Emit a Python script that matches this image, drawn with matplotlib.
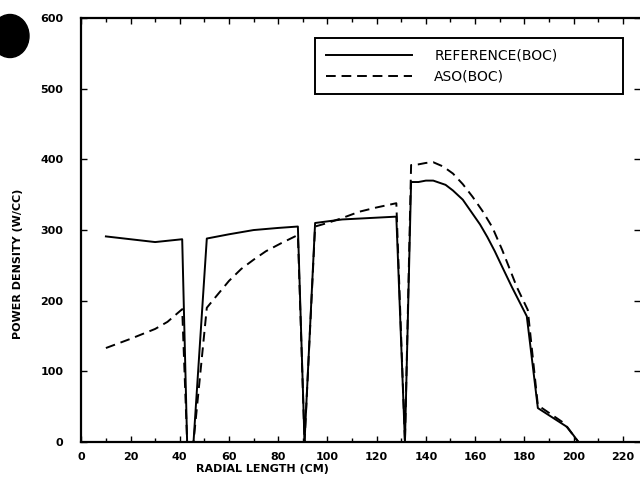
import matplotlib
matplotlib.use('Agg')
import matplotlib.pyplot as plt
from matplotlib.patches import Ellipse

# reference curve (solid)
ref_x = [10, 20, 30, 41, 43, 45.6, 51, 60, 70, 80, 88, 90.7, 95, 106, 117, 128,
         131.5, 134, 137, 140, 143, 148, 151, 155, 158, 162, 165, 168, 171, 175,
         181, 185.5, 197.5, 202]
ref_y = [291, 287, 283, 287, 0, 0, 288, 294, 300, 303, 305, 0, 310, 315, 317, 319,
         0, 368, 368, 370, 370, 364, 356, 343, 328, 308, 290, 270, 248, 219,
         178, 48, 21, 0]

# ASO curve (dashed)
aso_x = [10, 20, 30, 35, 41, 43, 45.6, 51, 55, 60, 65, 70, 75, 81, 88, 90.7, 95,
         100, 106, 113, 120, 128, 131.5, 134, 137, 140, 143, 147, 151, 155, 159,
         163, 167, 171, 177, 181.4, 185.5, 196, 202]
aso_y = [133, 146, 160, 170, 188, 0, 0, 190, 207, 228, 245, 258, 270, 281, 293, 0,
         305, 310, 317, 326, 332, 338, 0, 392, 393, 395, 396, 390, 380, 365, 347,
         327, 304, 272, 219, 187, 52, 27, 0]

x_ticks = list(range(0, 221, 20))
y_ticks = list(range(0, 601, 100))

fig = plt.figure(figsize=(6.4, 4.9), dpi=100)
ax = fig.add_axes([0.127, 0.098, 0.873, 0.865])

ax.plot(ref_x, ref_y, color='black', lw=1.4, label='REFERENCE(BOC)')
ax.plot(aso_x, aso_y, color='black', lw=1.4, dashes=(5, 3), label='ASO(BOC)')

ax.set_xlim(0, 227)
ax.set_ylim(0, 600)
ax.set_xticks(x_ticks)
ax.set_xticks(list(range(10, 227, 10)), minor=True)
ax.set_yticks(y_ticks)

for s in ['left', 'bottom', 'top']:
    ax.spines[s].set_linewidth(1.6)
ax.spines['right'].set_visible(False)

ax.tick_params(which='both', direction='in', top=True, right=True,
               labelsize=8, width=1.0)
ax.tick_params(which='major', length=4)
ax.tick_params(which='minor', length=3)
ax.tick_params(axis='y', pad=13)
ax.tick_params(axis='x', pad=7)
for lab in ax.get_xticklabels() + ax.get_yticklabels():
    lab.set_fontweight('bold')

ax.set_xlabel('RADIAL LENGTH (CM)', fontsize=8, fontweight='bold')
ax.set_ylabel('POWER DENSITY (W/CC)', fontsize=8, fontweight='bold')
ax.xaxis.set_label_coords(0.325, -0.052)
ax.yaxis.set_label_coords(-0.105, 0.42)

leg = ax.legend(loc='upper left', bbox_to_anchor=(0.419, 0.953, 0.551, 0.0),
                mode='expand', fontsize=10, handlelength=6.2, handletextpad=1.6,
                borderpad=0.75, labelspacing=0.5, fancybox=False, framealpha=1,
                edgecolor='black', borderaxespad=0)
leg.get_frame().set_linewidth(1.4)

# scan blot in the corner of the page
fig.patches.append(Ellipse((10 / 640, 1 - 36 / 490), 38 / 640, 43 / 490,
                           transform=fig.transFigure, color='black'))

fig.savefig('out.png', dpi=100)
